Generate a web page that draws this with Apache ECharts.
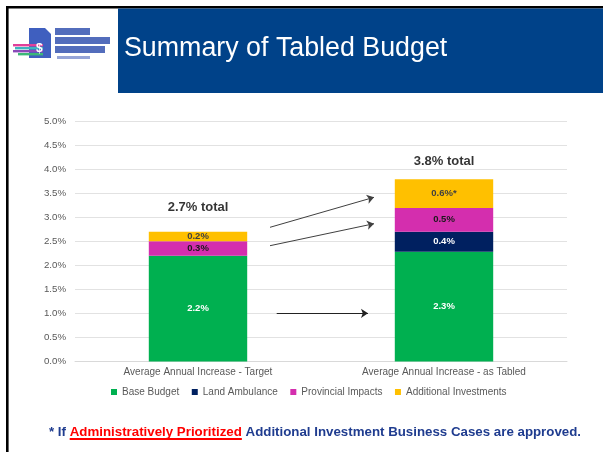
<!DOCTYPE html>
<html>
<head>
<meta charset="utf-8">
<script src="https://cdn.jsdelivr.net/npm/echarts@6/dist/echarts.min.js"></script>
<style>
html,body{margin:0;padding:0;background:#fff;}
#chart{width:603px;height:452px;}
</style>
</head>
<body>
<div id="chart"></div>
<script>
// ---- data ----
const categories = ['Average Annual Increase - Target', 'Average Annual Increase - as Tabled'];
const seriesNames = ['Base Budget', 'Land Ambulance', 'Provincial Impacts', 'Additional Investments'];
const baseBudget = [2.2, 2.28];
const landAmbulance = [null, 0.42];
const provincialImpacts = [0.3, 0.49];
const additionalInvestments = [0.2, 0.6];
const additionalSuffix = ['', '*'];
const totals = [2.7, 3.8];
const yMin = 0, yMax = 5, yStep = 0.5;
const titleText = 'Summary of Tabled Budget';
const noteParts = ['* If ', 'Administratively Prioritized', ' Additional Investment Business Cases are approved.'];

const FONT = 'Liberation Sans, Arial, Helvetica, sans-serif';
const colors = ['#00B050', '#002060', '#D42EAE', '#FFC000'];
const labelColors = ['#ffffff', '#ffffff', '#1a1a1a', '#404040'];

function pct(v){ return (v == null ? '' : v.toFixed(1) + '%'); }

// measure footnote pieces
const ctx = document.createElement('canvas').getContext('2d');
const noteFontSize = 13.3;
ctx.font = 'bold ' + noteFontSize + 'px ' + FONT;
const w0 = ctx.measureText(noteParts[0]).width;
const w1 = ctx.measureText(noteParts[1]).width;
const noteX = 49, noteY = 432.5;

const chart = echarts.init(document.getElementById('chart'), null, {renderer: 'canvas'});

const valuesList = [baseBudget, landAmbulance, provincialImpacts, additionalInvestments];
const barSeries = valuesList.map((vals, i) => ({
  name: seriesNames[i],
  type: 'bar',
  stack: 'total',
  barWidth: '40%',
  data: vals,
  itemStyle: {color: colors[i]},
  label: {
    show: true,
    position: 'inside',
    color: labelColors[i],
    fontFamily: FONT,
    fontWeight: 'bold',
    fontSize: 9.5,
    formatter: p => (p.value == null ? '' : pct(p.value) + (i === 3 ? additionalSuffix[p.dataIndex] : ''))
  }
}));

const totalOffsets = [[0, -24.6], [0, -17.4]];

const option = {
  animation: false,
  backgroundColor: '#ffffff',
  grid: {left: 75, right: 36, top: 121, bottom: 90.5, containLabel: false},
  legend: {
    data: seriesNames,
    left: 111,
    top: 387,
    padding: 0,
    icon: 'rect',
    itemWidth: 6,
    itemHeight: 6,
    itemGap: 12.5,
    textStyle: {fontFamily: FONT, fontSize: 10, color: '#595959'}
  },
  xAxis: {
    type: 'category',
    data: categories,
    axisLine: {lineStyle: {color: '#d9d9d9', width: 1}},
    axisTick: {show: false},
    axisLabel: {fontFamily: FONT, fontSize: 10, color: '#595959', margin: 6}
  },
  yAxis: {
    type: 'value',
    min: yMin, max: yMax, interval: yStep,
    axisLine: {show: false},
    axisTick: {show: false},
    splitLine: {lineStyle: {color: '#e2e2e2', width: 1}},
    axisLabel: {fontFamily: FONT, fontSize: 9.7, color: '#595959', margin: 9, formatter: v => v.toFixed(1) + '%'}
  },
  series: barSeries.concat([{
    name: 'totals',
    type: 'scatter',
    symbolSize: 0,
    silent: true,
    data: totals.map((v, i) => ({value: v, label: {offset: totalOffsets[i]}})),
    label: {
      show: true,
      position: 'inside',
      fontFamily: FONT,
      fontWeight: 'bold',
      fontSize: 13,
      color: '#000000',
      formatter: p => p.value.toFixed(1) + '% total'
    },
    markLine: {
      silent: true,
      symbol: ['none', 'arrow'],
      symbolSize: 7,
      label: {show: false},
      lineStyle: {type: 'solid', color: '#404040', width: 1},
      data: [
        [{x: 270, y: 227.3}, {x: 374, y: 197.3}],
        [{x: 270, y: 245.7}, {x: 374, y: 223.7}],
        [{x: 276.7, y: 313.3, lineStyle: {color: '#222'}}, {x: 368, y: 313.3}]
      ]
    }
  }]),
  graphic: [
    // frame
    {type: 'rect', shape: {x: 6, y: 6, width: 597, height: 2.6}, style: {fill: '#000'}, silent: true},
    {type: 'rect', shape: {x: 6, y: 6, width: 2.6, height: 446}, style: {fill: '#000'}, silent: true},
    // header band
    {type: 'rect', shape: {x: 118, y: 8.6, width: 485, height: 84.4}, style: {fill: '#004289'}, silent: true},
    {type: 'text', x: 124, y: 48.5, style: {text: titleText, fill: '#ffffff', font: '26.8px ' + FONT, textVerticalAlign: 'middle'}, silent: true},
    // logo (decorative shapes)
    {type: 'group', silent: true, children: [
      {type: 'polygon', shape: {points: [[29,28],[45,28],[51,34],[51,58],[29,58]]}, style: {fill: '#3F5FBF'}},
      {type: 'rect', shape: {x: 13, y: 44, width: 30, height: 2.4}, style: {fill: '#E0409A'}},
      {type: 'rect', shape: {x: 15, y: 47, width: 28, height: 2.4}, style: {fill: '#3DB4C0'}},
      {type: 'rect', shape: {x: 13, y: 50, width: 30, height: 2.4}, style: {fill: '#8A4AB8'}},
      {type: 'rect', shape: {x: 18, y: 53, width: 25, height: 2.4}, style: {fill: '#3CB878'}},
      {type: 'text', x: 36, y: 43, style: {text: '$', fill: '#ffffff', font: 'bold 12px ' + FONT}},
      {type: 'rect', shape: {x: 55, y: 28, width: 35, height: 7}, style: {fill: '#3553B0', opacity: 0.85}},
      {type: 'rect', shape: {x: 55, y: 37, width: 55, height: 7}, style: {fill: '#3553B0', opacity: 0.85}},
      {type: 'rect', shape: {x: 55, y: 46, width: 50, height: 7}, style: {fill: '#3553B0', opacity: 0.85}},
      {type: 'rect', shape: {x: 57, y: 56, width: 33, height: 3}, style: {fill: '#6a7fc8', opacity: 0.7}}
    ]},
    // footnote
    {type: 'text', x: noteX, y: noteY, silent: true,
      style: {text: noteParts[0], fill: '#1F3C8F', font: 'bold ' + noteFontSize + 'px ' + FONT, textVerticalAlign: 'middle'}},
    {type: 'text', x: noteX + w0, y: noteY, silent: true,
      style: {text: noteParts[1], fill: '#FF0000', font: 'bold ' + noteFontSize + 'px ' + FONT, textVerticalAlign: 'middle'}},
    {type: 'rect', silent: true, shape: {x: noteX + w0, y: 438, width: w1, height: 2}, style: {fill: '#FF0000'}},
    {type: 'text', x: noteX + w0 + w1, y: noteY, silent: true,
      style: {text: noteParts[2], fill: '#1F3C8F', font: 'bold ' + noteFontSize + 'px ' + FONT, textVerticalAlign: 'middle'}}
  ]
};

chart.setOption(option);
</script>
</body>
</html>
